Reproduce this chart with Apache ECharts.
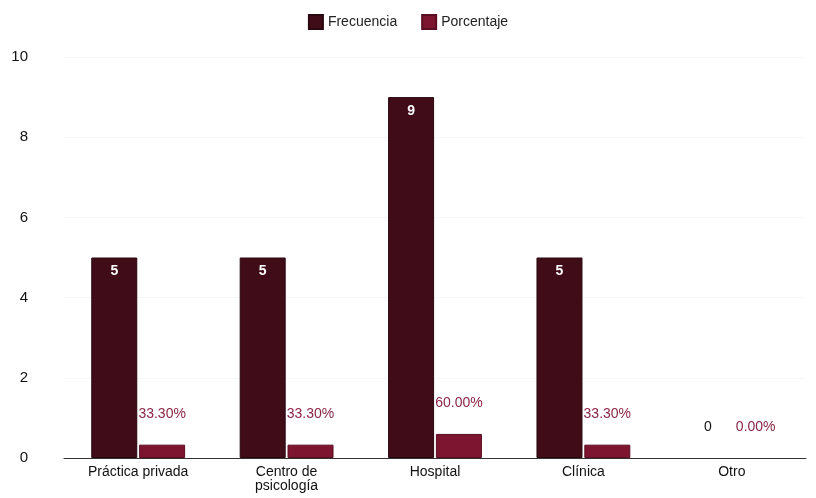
<!DOCTYPE html>
<html><head><meta charset="utf-8">
<script src="https://cdn.jsdelivr.net/npm/echarts@6/dist/echarts.min.js"></script>
<style>html,body{margin:0;padding:0;background:#fff}#c{width:816px;height:498px}</style>
</head><body><div id="c"></div>
<script>
const categories = ['Práctica privada', 'Centro de\npsicología', 'Hospital', 'Clínica', 'Otro'];
const frecuencia = [5, 5, 9, 5, 0];
const porcentaje = [33.3, 33.3, 60.0, 33.3, 0];
const yTicks = [0, 2, 4, 6, 8, 10];

const chart = echarts.init(document.getElementById('c'));
const font = 'Liberation Sans, Arial, sans-serif';
chart.setOption({
  animation: false,
  textStyle: { fontFamily: font },
  legend: {
    top: 9, left: 'center', icon: 'rect', itemWidth: 14, itemHeight: 14, itemGap: 24,
    textStyle: { fontSize: 14, color: '#222', fontFamily: font },
    data: ['Frecuencia', 'Porcentaje']
  },
  grid: { left: 64, right: 10, top: 57, bottom: 40 },
  xAxis: {
    type: 'category', data: categories,
    axisTick: { show: false },
    axisLine: { lineStyle: { color: '#333', width: 1 } },
    axisLabel: { color: '#111', fontSize: 14, margin: 7, lineHeight: 14, interval: 0 }
  },
  yAxis: {
    type: 'value', min: yTicks[0], max: yTicks[yTicks.length - 1], interval: 2,
    splitLine: { show: true, lineStyle: { color: '#f7f7f7' } },
    axisLabel: { color: '#111', fontSize: 15, margin: 36 }
  },
  series: [
    {
      name: 'Frecuencia', type: 'bar', barWidth: 46, barGap: '4%',
      itemStyle: { color: '#3f0c18', borderColor: '#2a0810', borderWidth: 1 },
      data: frecuencia.map(v => v === 0
        ? { value: v, itemStyle: { borderWidth: 0 }, label: { position: 'top', color: '#111', fontWeight: 'normal', distance: 24 } }
        : v),
      label: { show: true, position: 'insideTop', distance: 7, color: '#fff', fontWeight: 'bold', fontSize: 14 }
    },
    {
      name: 'Porcentaje', type: 'bar', barWidth: 46,
      itemStyle: { color: '#7e1530', borderColor: '#5a0e22', borderWidth: 1 },
      data: porcentaje.map(v => v === 0
        ? { value: v / 100, itemStyle: { borderWidth: 0 } }
        : v / 100),
      label: {
        show: true, position: 'top', distance: 24, color: '#8a2545', fontSize: 14,
        formatter: p => (p.value * 100).toFixed(2) + '%'
      }
    }
  ]
});
</script></body></html>
